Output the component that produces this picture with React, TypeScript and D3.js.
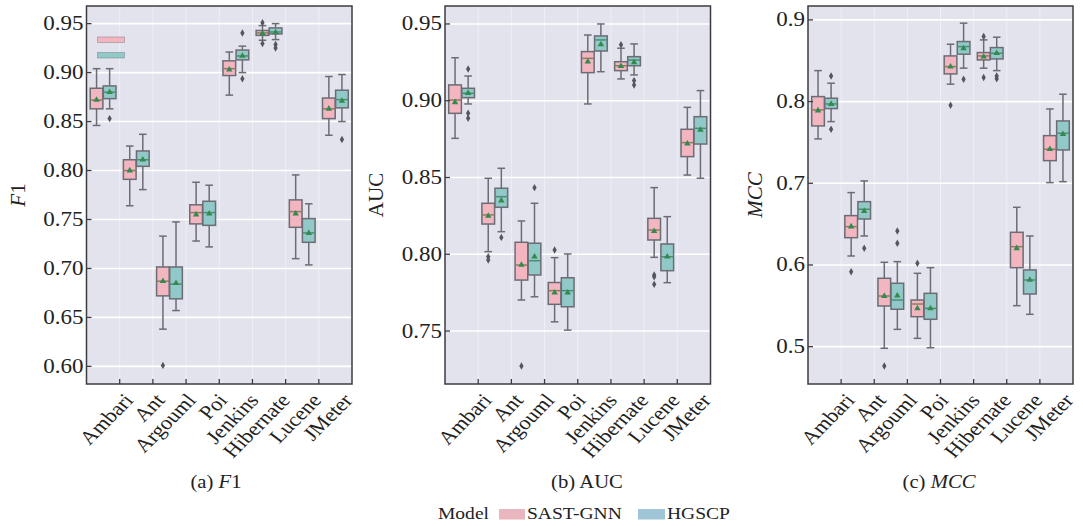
import React from "react";
import * as d3 from "d3";

// ---------- data ----------
const projects = ["Ambari", "Ant", "Argouml", "Poi", "Jenkins", "Hibernate", "Lucene", "JMeter"];
const models = ["SAST-GNN", "HGSCP"];

// each entry: [lowWhisker, Q1, median, Q3, highWhisker, mean]
const f1Sast = [
  [0.846, 0.863, 0.872, 0.884, 0.904, 0.872],
  [0.764, 0.791, 0.8, 0.811, 0.825, 0.8],
  [0.638, 0.672, 0.687, 0.7015, 0.733, 0.687],
  [0.728, 0.7455, 0.757, 0.765, 0.788, 0.755],
  [0.877, 0.897, 0.904, 0.912, 0.921, 0.903],
  [0.933, 0.938, 0.9405, 0.943, 0.948, 0.94],
  [0.71, 0.742, 0.758, 0.77, 0.7955, 0.756],
  [0.836, 0.853, 0.863, 0.874, 0.896, 0.863],
];
const f1SastOut = [[], [], [0.601], [], [], [0.951, 0.9296], [], []];
const f1Hgscp = [
  [0.863, 0.8734, 0.88, 0.8864, 0.904, 0.88],
  [0.7805, 0.8043, 0.811, 0.82, 0.837, 0.811],
  [0.657, 0.669, 0.684, 0.7015, 0.7475, 0.685],
  [0.722, 0.744, 0.757, 0.7686, 0.785, 0.756],
  [0.9, 0.913, 0.917, 0.923, 0.927, 0.917],
  [0.9337, 0.9395, 0.9415, 0.9456, 0.95, 0.941],
  [0.7036, 0.7267, 0.7363, 0.7509, 0.766, 0.736],
  [0.85, 0.864, 0.8724, 0.882, 0.898, 0.871],
];
const f1HgscpOut = [[0.853], [], [], [], [0.9405, 0.8938], [0.9286, 0.9252], [], [0.8316]];

const aucSast = [
  [0.8755, 0.8918, 0.9005, 0.9103, 0.928, 0.899],
  [0.8017, 0.8197, 0.8256, 0.8332, 0.8495, 0.825],
  [0.7702, 0.7832, 0.793, 0.8078, 0.8217, 0.793],
  [0.756, 0.7674, 0.7763, 0.7816, 0.7978, 0.775],
  [0.8979, 0.9183, 0.9276, 0.932, 0.9428, 0.9254],
  [0.9142, 0.9196, 0.9228, 0.9254, 0.9342, 0.9225],
  [0.798, 0.8093, 0.8158, 0.8234, 0.8434, 0.815],
  [0.8516, 0.8636, 0.8727, 0.8814, 0.8957, 0.872],
];
const aucSastOut = [[], [0.7984, 0.7962], [0.7272], [0.8028], [], [0.9365], [0.7865, 0.7854, 0.7804], []];
const aucHgscp = [
  [0.8979, 0.902, 0.9049, 0.9081, 0.9161, 0.905],
  [0.8147, 0.8306, 0.8375, 0.843, 0.856, 0.835],
  [0.7723, 0.7865, 0.7958, 0.8072, 0.8332, 0.7984],
  [0.7506, 0.7658, 0.7763, 0.7847, 0.8002, 0.775],
  [0.9189, 0.9324, 0.9396, 0.9422, 0.95, 0.9367],
  [0.9168, 0.9228, 0.9265, 0.9287, 0.937, 0.925],
  [0.7815, 0.7893, 0.7984, 0.8067, 0.8245, 0.7984],
  [0.8495, 0.8718, 0.882, 0.8896, 0.9066, 0.881],
];
const aucHgscpOut = [[0.9207, 0.8918, 0.8886], [0.811], [0.8434], [], [], [0.9131, 0.9103], [], []];

const mccSast = [
  [0.7543, 0.7702, 0.7898, 0.8061, 0.8379, 0.789],
  [0.611, 0.6334, 0.6469, 0.6604, 0.6886, 0.647],
  [0.498, 0.5498, 0.562, 0.5837, 0.6033, 0.562],
  [0.5102, 0.5367, 0.5522, 0.5571, 0.5898, 0.5469],
  [0.8213, 0.8339, 0.8428, 0.8559, 0.8702, 0.8428],
  [0.8409, 0.851, 0.8559, 0.86, 0.8755, 0.855],
  [0.5502, 0.5967, 0.6224, 0.64, 0.6706, 0.6204],
  [0.7008, 0.7277, 0.7417, 0.7583, 0.791, 0.7417],
];
const mccSastOut = [[], [0.5918], [0.4763], [0.6021], [0.7955], [0.8796, 0.8294], [], []];
const mccHgscp = [
  [0.7755, 0.7914, 0.7971, 0.8041, 0.8225, 0.797],
  [0.6355, 0.6563, 0.6682, 0.6775, 0.7029, 0.666],
  [0.5212, 0.5458, 0.5571, 0.5776, 0.6041, 0.5624],
  [0.4987, 0.5335, 0.5469, 0.5653, 0.5967, 0.5469],
  [0.8409, 0.858, 0.8673, 0.8735, 0.896, 0.865],
  [0.8379, 0.8522, 0.8592, 0.8661, 0.8788, 0.8592],
  [0.5396, 0.5645, 0.5816, 0.5939, 0.6355, 0.5816],
  [0.702, 0.7408, 0.7612, 0.7763, 0.809, 0.76],
];
const mccHgscpOut = [[0.8314, 0.7662], [0.6204], [0.6416, 0.6266], [], [0.8274], [0.8314, 0.8278], [], []];

const f1Ticks = ["0.60", "0.65", "0.70", "0.75", "0.80", "0.85", "0.90", "0.95"];
const aucTicks = ["0.75", "0.80", "0.85", "0.90", "0.95"];
const mccTicks = ["0.5", "0.6", "0.7", "0.8", "0.9"];

// ---------- style ----------
const FONT = "'Liberation Serif', Tinos, 'Nimbus Roman', 'Times New Roman', Times, serif";
const SX = 1.15;
const BG = "#e2e3ed";
const FRAME = "#3c3c40";
const EDGE = "#6c6c74";
const BOX_FILL = ["#f3b6c0", "#90c9c7"];
const LEGEND_FILL = ["#e9b6c0", "#9fc5d6"];
const MEAN_FILL = "#348a4e";
const MEDIAN = ["#8c7d62", "#4f8c78"];
const TOP = 6;
const BOTTOM = 384;
const txt: React.CSSProperties = { fontFamily: FONT };

type PanelProps = {
  left: number;
  right: number;
  domain: [number, number];
  ticks: string[];
  series: number[][][];
  outliers: number[][][];
  ylabel: React.ReactNode;
  ylabelX: number;
  caption: React.ReactNode;
  captionX: number;
  showInnerLegend?: boolean;
};

function Panel(p: PanelProps) {
  const y = d3.scaleLinear().domain(p.domain).range([BOTTOM, TOP]);
  const x = d3.scaleBand<string>().domain(projects).range([p.left, p.right]).padding(0);
  const bw = x.bandwidth();
  const dodge = d3.scaleBand<string>().domain(models).range([-bw * 0.4, bw * 0.4]).padding(0.03);
  const boxW = dodge.bandwidth();
  const capW = boxW * 0.6;
  const midY = (TOP + BOTTOM) / 2;
  const width = p.right - p.left;
  const tri = d3.symbol(d3.symbolTriangle, 18)()!;
  const dia = d3.symbol(d3.symbolDiamond, 16)()!;
  return (
    <g>
      <rect x={p.left} y={TOP} width={width} height={BOTTOM - TOP} fill={BG} />
      {p.ticks.map((t) => (
        <line key={"g" + t} x1={p.left} x2={p.right} y1={y(+t)} y2={y(+t)} stroke="#ffffff" strokeWidth={1.6} />
      ))}
      {projects.slice(1).map((d) => (
        <line key={"v" + d} x1={x(d)!} x2={x(d)!} y1={TOP} y2={BOTTOM} stroke="#ffffff" strokeOpacity={0.45} strokeWidth={1} />
      ))}
      {p.showInnerLegend &&
        models.map((m, k) => (
          <rect key={"il" + m} x={p.left + 11} y={37 + k * 15.5} width={27} height={5.5}
            fill={BOX_FILL[k]} stroke={EDGE} strokeOpacity={0.5} strokeWidth={0.8} />
        ))}
      {projects.map((proj, i) =>
        models.map((m, k) => {
          const s = p.series[k][i];
          const cx = x(proj)! + bw / 2 + dodge(m)! + boxW / 2;
          const [lo, q1, med, q3, hi, mean] = s;
          return (
            <g key={proj + m}>
              <line x1={cx} x2={cx} y1={y(hi)} y2={y(q3)} stroke={EDGE} strokeWidth={1.5} />
              <line x1={cx} x2={cx} y1={y(q1)} y2={y(lo)} stroke={EDGE} strokeWidth={1.5} />
              <line x1={cx - capW / 2} x2={cx + capW / 2} y1={y(hi)} y2={y(hi)} stroke={EDGE} strokeWidth={1.5} />
              <line x1={cx - capW / 2} x2={cx + capW / 2} y1={y(lo)} y2={y(lo)} stroke={EDGE} strokeWidth={1.5} />
              <rect x={cx - boxW / 2} y={y(q3)} width={boxW} height={y(q1) - y(q3)}
                fill={BOX_FILL[k]} stroke={EDGE} strokeWidth={1.5} />
              <line x1={cx - boxW / 2} x2={cx + boxW / 2} y1={y(med)} y2={y(med)} stroke={MEDIAN[k]} strokeWidth={1.5} />
              <path d={tri} transform={`translate(${cx},${y(mean)})`} fill={MEAN_FILL} />
              {p.outliers[k][i].map((o, j) => (
                <path key={j} d={dia} transform={`translate(${cx},${y(o)})`} fill="#55555c" />
              ))}
            </g>
          );
        })
      )}
      <rect x={p.left} y={TOP} width={width} height={BOTTOM - TOP} fill="none" stroke={FRAME} strokeWidth={1.5} />
      {p.ticks.map((t) => (
        <line key={"ytm" + t} x1={p.left} x2={p.left + 5} y1={y(+t)} y2={y(+t)} stroke={FRAME} strokeWidth={1.3} />
      ))}
      {p.ticks.map((t) => (
        <text key={"ytl" + t} x={0} y={0} transform={`translate(${p.left - 3},${y(+t)}) scale(${SX},1)`}
          textAnchor="end" dominantBaseline="central" style={txt} fontSize={20} fill="#222">{t}</text>
      ))}
      {projects.slice(1).map((d) => (
        <line key={"xt" + d} x1={x(d)!} x2={x(d)!} y1={BOTTOM} y2={BOTTOM - 5} stroke={FRAME} strokeWidth={1.3} />
      ))}
      {projects.map((d, i) => {
        const ex = p.left + width * 0.173 + i * width * 0.118 + 2;
        const ey = BOTTOM + 17;
        return (
          <text key={"xl" + d} transform={`translate(${ex},${ey}) scale(${SX},1) rotate(-49)`} textAnchor="end"
            style={txt} fontSize={19.5} fill="#222">{d}</text>
        );
      })}
      <text transform={`translate(${p.ylabelX},${midY}) rotate(-90)`} textAnchor="middle" dy="0.35em"
        style={txt} fontSize={21} fill="#222">{p.ylabel}</text>
      <text transform={`translate(${p.captionX},488) scale(${SX},1)`} textAnchor="middle"
        style={txt} fontSize={18} fill="#222">{p.caption}</text>
    </g>
  );
}

export default function App() {
  return (
    <svg width={1083} height={526} style={{ position: "absolute", left: 0, top: 0, background: "#fff" }}>
      <Panel left={86.5} right={352} domain={[0.582, 0.968]} ticks={f1Ticks}
        series={[f1Sast, f1Hgscp]} outliers={[f1SastOut, f1HgscpOut]}
        ylabel={<><tspan fontStyle="italic">F</tspan>1</>} ylabelX={18}
        caption={<>(a) <tspan fontStyle="italic">F</tspan>1</>} captionX={216} showInnerLegend />
      <Panel left={445} right={710.5} domain={[0.7155, 0.9617]} ticks={aucTicks}
        series={[aucSast, aucHgscp]} outliers={[aucSastOut, aucHgscpOut]}
        ylabel="AUC" ylabelX={376} caption="(b) AUC" captionX={587} />
      <Panel left={808} right={1073} domain={[0.4543, 0.917]} ticks={mccTicks}
        series={[mccSast, mccHgscp]} outliers={[mccSastOut, mccHgscpOut]}
        ylabel={<tspan fontStyle="italic">MCC</tspan>} ylabelX={755}
        caption={<>(c) <tspan fontStyle="italic">MCC</tspan></>} captionX={939} />
      <g style={txt} fontSize={17} fill="#222">
        <text transform={`translate(438,519) scale(${SX},1)`}>Model</text>
        <rect x={499} y={509} width={26} height={10.5} fill={LEGEND_FILL[0]} />
        <text transform={`translate(527,519) scale(${SX},1)`}>{models[0]}</text>
        <rect x={638} y={509} width={27} height={10.5} fill={LEGEND_FILL[1]} />
        <text transform={`translate(667,519) scale(${SX},1)`}>{models[1]}</text>
      </g>
    </svg>
  );
}
